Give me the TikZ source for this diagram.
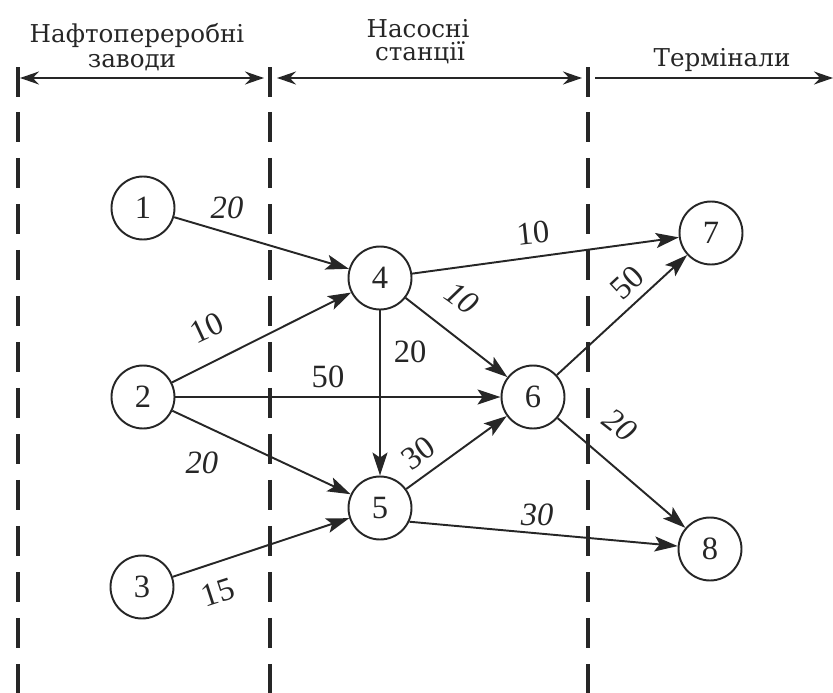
\documentclass[tikz,border=0pt]{standalone}
\usepackage{fontspec}
\setmainfont{Liberation Serif}
\newfontfamily\hdrfont{DejaVu Serif}
\usetikzlibrary{arrows.meta}

\begin{document}
\begin{tikzpicture}[x=0.02cm, y=-0.02cm, color=black!85, line width=1.1pt,
  >={Stealth[length=0.46cm, width=0.3cm, inset=0.1cm]},
  vtx/.style={circle, draw, minimum size=1.26cm, inner sep=0pt, font=\fontsize{18.5}{20}\selectfont},
  wt/.style={inner sep=0pt, font=\fontsize{18.5}{20}\selectfont},
  wti/.style={inner sep=0pt, font=\fontsize{18.5}{20}\selectfont\itshape},
  hdr/.style={inner sep=0pt, anchor=base, font=\hdrfont\fontsize{14}{16}\selectfont},
  zoneline/.style={line width=2.2pt, dash pattern=on 0.6cm off 0.32cm},
  spanarrow/.style={{Stealth[length=0.38cm, width=0.26cm]}-{Stealth[length=0.38cm, width=0.26cm]}}]
  \useasboundingbox (0,0) rectangle (833,693);
  \coordinate (A) at (18,67);
  \coordinate (B) at (270,67);
  \coordinate (C) at (588,67);
  \coordinate (D) at (18,693);
  \coordinate (E) at (270,693);
  \coordinate (F) at (588,693);
  \draw[line width=2.2pt] (A) -- ++(0,30);
  \draw[line width=2.2pt] (B) -- ++(0,30);
  \draw[line width=2.2pt] (C) -- ++(0,30);
  \draw[zoneline] ([yshift=-0.9cm]A) -- (D);
  \draw[zoneline] ([yshift=-0.9cm]B) -- (E);
  \draw[zoneline] ([yshift=-0.9cm]C) -- (F);
  \draw[spanarrow] (20,78) -- (264,78);
  \draw[spanarrow] (277,78) -- (582,78);
  \draw[-{Stealth[length=0.38cm, width=0.26cm]}] (595,78) -- (833,78);
  \node[hdr] (h1) at (137,43) {Нафтопереробні};
  \node[hdr] (h2) at (132,68) {заводи};
  \node[hdr] (h3) at (418,37) {Насосні};
  \node[hdr] (h4) at (420,60) {станції};
  \node[hdr] (h5) at (722,67) {Термінали};
  \node[vtx] (n1) at (143,208) {1};
  \node[vtx] (n2) at (143,397) {2};
  \node[vtx] (n3) at (142,587) {3};
  \node[vtx] (n4) at (380,278) {4};
  \node[vtx] (n5) at (380,508) {5};
  \node[vtx] (n6) at (533,397) {6};
  \node[vtx] (n7) at (711,233) {7};
  \node[vtx] (n8) at (710,549) {8};
  \draw[->] (n1) -- (n4);
  \draw[->] (n2) -- (n4);
  \draw[->] (n2) -- (n6);
  \draw[->] (n2) -- (n5);
  \draw[->] (n3) -- (n5);
  \draw[->] (n4) -- (n7);
  \draw[->] (n4) -- (n6);
  \draw[->] (n4) -- (n5);
  \draw[->] (n5) -- (n6);
  \draw[->] (n5.-25) -- (n8);
  \draw[->] (n6) -- (n7);
  \draw[->] (n6) -- (n8);
  \node[wti] (w14) at (227,208) {20};
  \node[wt, rotate=25] (w24) at (207,328) {10};
  \node[wt] (w26) at (328,377) {50};
  \node[wti] (w25) at (202,463) {20};
  \node[wt, rotate=18] (w35) at (218,592) {15};
  \node[wt] (w45) at (410,352) {20};
  \node[wt, rotate=6] (w47) at (533,233) {10};
  \node[wti, rotate=-36] (w46) at (462,298) {10};
  \node[wt, rotate=36] (w56) at (418,453) {30};
  \node[wti] (w58) at (537,515) {30};
  \node[wt, rotate=43] (w67) at (627,283) {50};
  \node[wti, rotate=-38] (w68) at (620,425) {20};
\end{tikzpicture}
\end{document}
